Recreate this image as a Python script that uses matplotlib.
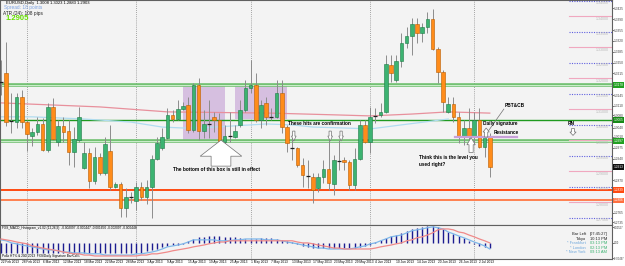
import numpy as np
import pandas as pd
import matplotlib
matplotlib.use('Agg')
import matplotlib.pyplot as plt
from matplotlib.patches import Polygon, Rectangle

plt.rcParams['font.family'] = ['Liberation Sans', 'DejaVu Sans']

# EURUSD daily candles, from 22 Feb 2013
opens = [1.3190, 1.3216, 1.3061, 1.3058, 1.3139, 1.3058, 1.3013, 1.3026, 1.3052, 1.2968,
         1.3107, 1.2994, 1.3045, 1.3029, 1.2962, 1.3000, 1.2910, 1.2958, 1.2868, 1.2945,
         1.2894, 1.2965, 1.2849, 1.2858, 1.2781, 1.2816, 1.2804, 1.2849, 1.2816, 1.2849,
         1.2939, 1.2974, 1.3007, 1.3081, 1.3068, 1.3100, 1.3113, 1.3033, 1.3178, 1.3029,
         1.3052, 1.3075, 1.3065, 1.2994, 1.3013, 1.3010, 1.3049, 1.3097, 1.3168, 1.3178,
         1.3065, 1.3120, 1.3075, 1.3075, 1.3152, 1.3042, 1.2974, 1.2974, 1.2920, 1.2884,
         1.2881, 1.2845, 1.2881, 1.2907, 1.2858, 1.2932, 1.2936, 1.2929, 1.2855, 1.2939,
         1.3049, 1.2994, 1.3078, 1.3081, 1.3091, 1.3242, 1.3194, 1.3255, 1.3313, 1.3336,
         1.3374, 1.3345, 1.3365, 1.3391, 1.3294, 1.3219, 1.3091, 1.3116, 1.3075, 1.3010,
         1.3039, 1.3010, 1.3065, 1.2978, 1.3010]
highs = [1.3258, 1.3316, 1.3152, 1.3152, 1.3162, 1.3065, 1.3039, 1.3075, 1.3071, 1.3120,
         1.3136, 1.3065, 1.3075, 1.3065, 1.3042, 1.3107, 1.2994, 1.2974, 1.2978, 1.2958,
         1.3010, 1.3049, 1.2865, 1.2865, 1.2845, 1.2833, 1.2865, 1.2865, 1.2871, 1.2952,
         1.3010, 1.3039, 1.3103, 1.3097, 1.3129, 1.3123, 1.3139, 1.3184, 1.3200, 1.3097,
         1.3129, 1.3091, 1.3087, 1.3049, 1.3091, 1.3049, 1.3129, 1.3194, 1.3258, 1.3216,
         1.3129, 1.3139, 1.3103, 1.3194, 1.3194, 1.3049, 1.3010, 1.2978, 1.2942, 1.2936,
         1.2894, 1.2894, 1.2936, 1.3000, 1.2952, 1.3000, 1.2945, 1.2936, 1.2974, 1.3065,
         1.3065, 1.3107, 1.3103, 1.3120, 1.3274, 1.3274, 1.3274, 1.3345, 1.3365, 1.3394,
         1.3394, 1.3378, 1.3413, 1.3423, 1.3300, 1.3226, 1.3139, 1.3139, 1.3091, 1.3065,
         1.3103, 1.3091, 1.3103, 1.3033, 1.3023]
lows = [1.3146, 1.3045, 1.3023, 1.3039, 1.3039, 1.2965, 1.2981, 1.3016, 1.2965, 1.2962,
        1.3000, 1.2981, 1.2994, 1.2920, 1.2913, 1.2994, 1.2907, 1.2845, 1.2858, 1.2887,
        1.2887, 1.2839, 1.2845, 1.2752, 1.2752, 1.2797, 1.2775, 1.2807, 1.2794, 1.2749,
        1.2936, 1.2968, 1.3003, 1.3058, 1.3065, 1.3097, 1.3023, 1.3026, 1.3000, 1.3007,
        1.3007, 1.3026, 1.2974, 1.2984, 1.2994, 1.3007, 1.3042, 1.3091, 1.3152, 1.3058,
        1.3039, 1.3049, 1.3065, 1.3071, 1.3023, 1.2962, 1.2936, 1.2913, 1.2849, 1.2845,
        1.2797, 1.2833, 1.2862, 1.2839, 1.2823, 1.2904, 1.2904, 1.2839, 1.2839, 1.2936,
        1.2991, 1.2958, 1.3055, 1.3075, 1.3087, 1.3187, 1.3187, 1.3236, 1.3297, 1.3274,
        1.3313, 1.3316, 1.3345, 1.3290, 1.3184, 1.3091, 1.3087, 1.3058, 1.2991, 1.2984,
        1.3000, 1.2991, 1.2974, 1.2945, 1.2881]
closes = [1.3188, 1.3058, 1.3060, 1.3139, 1.3058, 1.3020, 1.3026, 1.3052, 1.2968, 1.3107,
          1.3003, 1.3045, 1.3026, 1.2962, 1.3003, 1.3075, 1.2958, 1.2868, 1.2945, 1.2894,
          1.2987, 1.2849, 1.2858, 1.2781, 1.2816, 1.2818, 1.2849, 1.2816, 1.2849, 1.2939,
          1.2991, 1.3010, 1.3081, 1.3068, 1.3100, 1.3110, 1.3033, 1.3178, 1.3029, 1.3052,
          1.3053, 1.3065, 1.2994, 1.3013, 1.3014, 1.3029, 1.3097, 1.3168, 1.3178, 1.3065,
          1.3113, 1.3075, 1.3074, 1.3152, 1.3042, 1.2991, 1.2973, 1.2920, 1.2887, 1.2883,
          1.2839, 1.2881, 1.2907, 1.2862, 1.2936, 1.2931, 1.2929, 1.2855, 1.2939, 1.3049,
          1.2994, 1.3075, 1.3077, 1.3091, 1.3245, 1.3216, 1.3255, 1.3313, 1.3336, 1.3374,
          1.3345, 1.3365, 1.3391, 1.3294, 1.3219, 1.3123, 1.3116, 1.3075, 1.3010, 1.3039,
          1.3010, 1.3065, 1.2978, 1.3010, 1.2913]
dates = pd.bdate_range('2013-02-22', periods=len(opens))

# moving averages (bar index, price)
ma_slow_idx = [0, 19, 32, 52, 65, 71, 79, 86, 94]
ma_slow = [1.3120, 1.3107, 1.3091, 1.3087, 1.3081, 1.3078, 1.3084, 1.3091, 1.3087]
ma_fast_idx = [0, 6, 16, 25, 31, 35, 38, 44, 51, 56, 60, 66, 71, 77, 86]
ma_fast = [1.3075, 1.3075, 1.3068, 1.3058, 1.3042, 1.3039, 1.3039, 1.3045, 1.3052,
           1.3049, 1.3042, 1.3039, 1.3036, 1.3049, 1.3068]

# MACD panel (x 1e-4)
macd = [10, 7, 0, -3, -7, -10, -13, -17, -20, -23, -23, -26, -30, -30, -33, -33, -33, -36, -36, -36,
        -40, -40, -40, -40, -40, -40, -36, -36, -33, -30, -26, -20, -13, -10, -7, -3, 3, 10, 10, 10,
        10, 10, 7, 7, 7, 10, 10, 13, 13, 13, 13, 10, 10, 10, 7, 3, 0, -3, -7, -10,
        -13, -17, -17, -20, -20, -20, -20, -20, -17, -13, -10, -3, 0, 7, 13, 20, 23, 26, 33, 40,
        43, 46, 50, 53, 50, 46, 36, 30, 23, 17, 10, 3, -3, -10, -20]
signal = [13, 10, 7, 3, 0, -3, -10, -13, -17, -20, -23, -26, -30, -33, -36, -36, -40, -40, -43, -43,
          -43, -43, -43, -43, -43, -43, -43, -40, -40, -36, -36, -33, -30, -26, -23, -20, -17, -13, -10, -7,
          -3, 0, 3, 3, 7, 7, 7, 7, 7, 7, 7, 7, 7, 7, 7, 7, 7, 3, 0, 0,
          -3, -7, -10, -13, -17, -17, -20, -20, -20, -20, -20, -20, -17, -13, -10, -7, -3, 0, 7, 10,
          17, 20, 26, 33, 43, 46, 46, 43, 36, 33, 26, 20, 13, 7, 0]
hist = [-33, -33, -33, -33, -33, -33, -33, -33, -33, -33, -33, -33, -33, -33, -33, -33, -33, -33, -33, -33,
        -33, -33, -33, -33, -33, -33, -33, -33, -26, -23, -20, -13, -10, -7, -7, -3, 7, 13, 20, 20,
        23, 23, 23, 20, 20, 20, 17, 13, 13, 13, 17, 17, 17, 13, 10, 7, 3, -3, -10, -13,
        -17, -17, -17, -17, -17, -17, -17, -17, -17, -13, -10, -7, 3, 10, 17, 23, 26, 33, 40, 46,
        50, 53, 56, 56, 53, 46, 36, 30, 23, 17, 7, -3, -10, -13, -17]

# horizontal levels drawn on the chart
sr_bands = [1.3178, 1.2997]
sr_line = 1.3065
sup_red = 1.2839
sup_orange = 1.2806
round_levels = [1.3450, 1.3400, 1.3350, 1.3300, 1.3250, 1.3200, 1.3150, 1.3100,
                1.3050, 1.3000, 1.2950, 1.2900, 1.2850, 1.2800, 1.2750]
price_ticks = [1.3425, 1.3390, 1.3355, 1.3320, 1.3285, 1.3250, 1.3215, 1.3145, 1.3110,
               1.3080, 1.3040, 1.3010, 1.2975, 1.2940, 1.2870, 1.2765, 1.2735]
last_price = 1.2913

# boxes (first bar, last bar, low, high)
boxes = [(35, 43, 1.3000, 1.3178), (45, 55, 1.3068, 1.3178)]

W, H = 625, 266
def frame(x0, y0, x1, y1):
    return [x0 / W, 1 - y1 / H, (x1 - x0) / W, (y1 - y0) / H]

fig = plt.figure(figsize=(W / 100, H / 100), dpi=100)
fig.patch.set_facecolor('white')
ax = fig.add_axes(frame(0, 0, 612, 225))
axm = fig.add_axes(frame(0, 225, 612, 259), sharex=ax)
bg = '#f3f3f3'
for a in (ax, axm):
    a.set_facecolor(bg)
    for s in a.spines.values():
        s.set_color('#606060')
        s.set_linewidth(0.8)
    a.tick_params(left=False, labelleft=False, bottom=False, labelbottom=False,
                  right=True, labelright=True, direction='out', length=1.2,
                  width=0.5, colors='#404040', labelsize=2.3, pad=0.3)

x = np.arange(len(opens))
o = np.array(opens)
c = np.array(closes)
ax.set_xlim(-0.2, 117.5)
ax.set_ylim(1.2726, 1.3452)

# month separators
month_start = [i for i in range(1, len(dates)) if dates[i].month != dates[i - 1].month]
for i in month_start:
    ax.axvline(i, color='#8a8a8a', lw=0.6, ls=(0, (1, 1.5)), zorder=1)
    axm.axvline(i, color='#8a8a8a', lw=0.6, ls=(0, (1, 1.5)), zorder=1)

for b0, b1, lo, hi in boxes:
    ax.add_patch(Rectangle((b0, lo), b1 - b0, hi - lo, color='#d6bfe0', lw=0, zorder=1))

# levels
for lv in sr_bands:
    ax.axhline(lv, color='#6fbf6f', lw=2.6, zorder=2)
    ax.axhline(lv, color='#c9ecc9', lw=0.8, zorder=2)
ax.axhline(sr_line, color='#1f9a1f', lw=1.0, zorder=2)
ax.axhline(sup_red, color='#ff4a10', lw=1.4, zorder=2)
ax.axhline(sup_orange, color='#ff8050', lw=1.4, zorder=2)
for k, lv in enumerate(round_levels):
    if k % 2 == 1:
        ax.axhline(lv, xmin=0.93, color='#f0a8bf', lw=0.8, zorder=2)
    else:
        ax.axhline(lv, xmin=0.93, color='#6060e0', lw=0.8, ls=(0, (1, 1.2)), zorder=2)
    ax.text(116.8, lv - 0.0002, '%.5f' % lv, fontsize=2.6, color='#b8b8b8',
            ha='right', va='top', zorder=2)

ax.plot(ma_slow_idx, ma_slow, color='#e8909c', lw=0.9, zorder=2)
ax.plot(ma_fast_idx, ma_fast, color='#b0dcf0', lw=0.9, zorder=2)

# candles
up = c >= o
body_lo = np.minimum(o, c)
body_h = np.abs(c - o)
doji = body_h < 0.0004
ax.vlines(x, lows, highs, color='#8c8c8c', lw=0.7, zorder=3)
face = np.where(up, '#3cb371', '#ff8c1a')
edge = np.where(up, '#1e7a46', '#b85c00')
ax.bar(x[~doji], body_h[~doji], bottom=body_lo[~doji], width=0.7, color=face[~doji],
       edgecolor=edge[~doji], lw=0.4, zorder=4)
ax.hlines(((o + c) / 2)[doji], x[doji] - 0.38, x[doji] + 0.38, color='#202020', lw=0.9, zorder=4)

ax.set_yticks(price_ticks)
ax.set_yticklabels(['%.4f' % t for t in price_ticks])

def tag(a, val, fc, txt=None):
    a.text(1.002, val, txt or '%.4f' % val, transform=a.get_yaxis_transform(), fontsize=2.3,
           color='white', va='center', ha='left', zorder=6, clip_on=False,
           bbox=dict(boxstyle='square,pad=0.2', fc=fc, ec='none'))

tag(ax, sr_bands[0], '#22a022')
tag(ax, sr_line, '#178a17')
tag(ax, sr_bands[1], '#22a022')
tag(ax, last_price, '#101010')
tag(ax, sup_red, '#ff4a10')
tag(ax, sup_orange, '#ff7040')

# annotations
def hollow_arrow(cx, tip, base, bottom, hw, sw):
    pts = [(cx, tip), (cx + hw, base), (cx + sw, base), (cx + sw, bottom),
           (cx - sw, bottom), (cx - sw, base), (cx - hw, base)]
    ax.add_patch(Polygon(pts, closed=True, fc='white', ec='#707070', lw=0.5, zorder=7))

hollow_arrow(42.3, 1.3000, 1.2948, 1.2916, 4.0, 1.9)
ax.text(33.1, 1.2906, 'The bottom of this box is still in effect', fontsize=3.4,
        fontweight='bold', ha='left', va='center', zorder=8)
ax.text(55.2, 1.3052, 'These hits are confirmation', fontsize=3.4,
        fontweight='bold', ha='left', va='center', zorder=8)
for cx in (56.3, 63.3, 65.4):
    hollow_arrow(cx, 1.2997, 1.3013, 1.3029, 0.45, 0.22)
ax.text(96.9, 1.3110, 'PBT&CB', fontsize=3.4, fontweight='bold', ha='left', va='center', zorder=8)
ax.plot([96.7, 93.7], [1.3100, 1.3029], color='#707070', lw=0.5, zorder=7)
ax.text(92.7, 1.3055, 'Daily signature', fontsize=3.4, fontweight='bold', ha='left', va='center', zorder=8)
ax.text(94.8, 1.3023, 'Resistance', fontsize=3.4, fontweight='bold', ha='left', va='center', zorder=8)
hollow_arrow(93.3, 1.3039, 1.3026, 1.3010, 0.6, 0.3)
ax.plot([87.3, 99.2], [1.3010, 1.3010], color='#c8a0d8', lw=1.6, zorder=5)
ax.text(80.4, 1.2945, 'Think this is the level you', fontsize=3.4, fontweight='bold',
        ha='left', va='center', zorder=8)
ax.text(80.4, 1.2922, 'used right?', fontsize=3.4, fontweight='bold', ha='left', va='center', zorder=8)
hollow_arrow(90.4, 1.3008, 1.2985, 1.2960, 0.8, 0.4)
ax.text(109.0, 1.3052, 'RN', fontsize=3.4, fontweight='bold', ha='left', va='center', zorder=8)
hollow_arrow(110.0, 1.3015, 1.3026, 1.3037, 0.6, 0.3)

# header text
fig.text(6 / W, 1 - 3 / H, 'EURUSD,Daily  1.3008 1.3023 1.2883 1.2903', fontsize=3.0,
         va='center', ha='left')
fig.text(4 / W, 1 - 8 / H, 'Spread: 18 points', fontsize=3.4, color='#7aa0e0', va='center')
fig.text(3 / W, 1 - 13 / H, 'ATR (24): 108 pips', fontsize=3.4, color='#202020', va='center')
fig.text(6 / W, 1 - 18.5 / H, '1.2905', fontsize=5.5, color='#66e000', fontweight='bold', va='center')

# MACD panel
axm.set_ylim(-53, 59)
axm.vlines(x, 0, hist, color='#1c1c90', lw=1.0, zorder=3)
axm.plot(x, macd, color='#7fb8ea', lw=0.9, zorder=4)
axm.plot(x, signal, color='#f08a8a', lw=0.9, zorder=4)
axm.set_yticks([52, 0, -50])
axm.set_yticklabels(['0.00527', '0.00', '-0.00497'])
axm.tick_params(labelsize=1.9)
axm.text(0.004, 0.9, 'FXS_MACD_Histogram_v1.02 (12,26,9)  -0.002097 -0.000447 -0.001650 -0.002097 -0.000448',
         transform=axm.transAxes, fontsize=2.3, va='center')
axm.text(0.004, 0.1, 'Pollo HT% & 20D 2013  FXS/Daily Signature Bar/Cd%', transform=axm.transAxes,
         fontsize=2.3, va='center')

info = [('Bar Left', '[07:45:27]', '#202020', '#202020'),
        ('Tokyo', '10:13 PM', '#202020', '#202020'),
        ('* Frankfurt', '03:13 PM', '#6fa8dc', '#3cb371'),
        ('* London', '02:13 PM', '#6fa8dc', '#3cb371'),
        ('* New York', '09:13 AM', '#6fa8dc', '#3cb371')]
for k, (lab, tm, c1, c2) in enumerate(info):
    yy = 1 - (234 + 4.6 * k) / H
    fig.text(586 / W, yy, lab, fontsize=2.9, color=c1, ha='right', va='center')
    fig.text(590 / W, yy, tm, fontsize=2.9, color=c2, ha='left', va='center')

# date labels
for i in range(0, len(dates), 4):
    d = dates[i]
    axm.text(i, -0.08, '%d %s' % (d.day, d.strftime('%b %Y')), transform=axm.get_xaxis_transform(),
             fontsize=2.3, ha='left', va='center', clip_on=False)

fig.savefig('out.png', dpi=100)
